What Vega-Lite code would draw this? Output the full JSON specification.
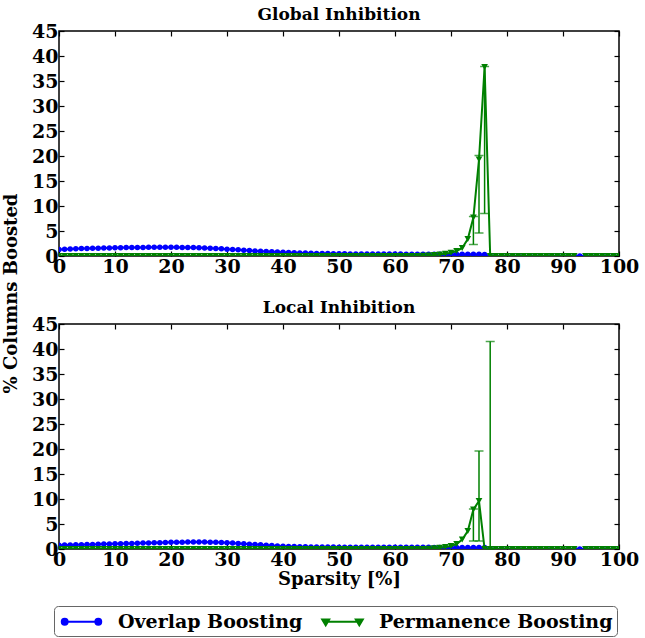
{
  "$schema": "https://vega.github.io/schema/vega-lite/v6.json",
  "padding": {"left": 1, "top": 5, "right": 0, "bottom": 0},
  "background": "white",
  "bounds": "flush",
  "spacing": 68,
  "datasets": {
    "global": [
      {"sparsity":0,"Overlap Boosting":1.30,"Permanence Boosting":0},
      {"sparsity":1,"Overlap Boosting":1.35,"Permanence Boosting":0},
      {"sparsity":2,"Overlap Boosting":1.40,"Permanence Boosting":0},
      {"sparsity":3,"Overlap Boosting":1.45,"Permanence Boosting":0},
      {"sparsity":4,"Overlap Boosting":1.48,"Permanence Boosting":0},
      {"sparsity":5,"Overlap Boosting":1.52,"Permanence Boosting":0},
      {"sparsity":6,"Overlap Boosting":1.55,"Permanence Boosting":0},
      {"sparsity":7,"Overlap Boosting":1.57,"Permanence Boosting":0},
      {"sparsity":8,"Overlap Boosting":1.60,"Permanence Boosting":0},
      {"sparsity":9,"Overlap Boosting":1.62,"Permanence Boosting":0},
      {"sparsity":10,"Overlap Boosting":1.64,"Permanence Boosting":0},
      {"sparsity":11,"Overlap Boosting":1.66,"Permanence Boosting":0},
      {"sparsity":12,"Overlap Boosting":1.68,"Permanence Boosting":0},
      {"sparsity":13,"Overlap Boosting":1.70,"Permanence Boosting":0},
      {"sparsity":14,"Overlap Boosting":1.71,"Permanence Boosting":0},
      {"sparsity":15,"Overlap Boosting":1.72,"Permanence Boosting":0},
      {"sparsity":16,"Overlap Boosting":1.73,"Permanence Boosting":0},
      {"sparsity":17,"Overlap Boosting":1.74,"Permanence Boosting":0},
      {"sparsity":18,"Overlap Boosting":1.74,"Permanence Boosting":0},
      {"sparsity":19,"Overlap Boosting":1.74,"Permanence Boosting":0},
      {"sparsity":20,"Overlap Boosting":1.74,"Permanence Boosting":0},
      {"sparsity":21,"Overlap Boosting":1.73,"Permanence Boosting":0},
      {"sparsity":22,"Overlap Boosting":1.72,"Permanence Boosting":0},
      {"sparsity":23,"Overlap Boosting":1.70,"Permanence Boosting":0},
      {"sparsity":24,"Overlap Boosting":1.68,"Permanence Boosting":0},
      {"sparsity":25,"Overlap Boosting":1.65,"Permanence Boosting":0},
      {"sparsity":26,"Overlap Boosting":1.61,"Permanence Boosting":0},
      {"sparsity":27,"Overlap Boosting":1.56,"Permanence Boosting":0},
      {"sparsity":28,"Overlap Boosting":1.50,"Permanence Boosting":0},
      {"sparsity":29,"Overlap Boosting":1.44,"Permanence Boosting":0},
      {"sparsity":30,"Overlap Boosting":1.37,"Permanence Boosting":0},
      {"sparsity":31,"Overlap Boosting":1.30,"Permanence Boosting":0},
      {"sparsity":32,"Overlap Boosting":1.23,"Permanence Boosting":0},
      {"sparsity":33,"Overlap Boosting":1.16,"Permanence Boosting":0},
      {"sparsity":34,"Overlap Boosting":1.09,"Permanence Boosting":0},
      {"sparsity":35,"Overlap Boosting":1.02,"Permanence Boosting":0},
      {"sparsity":36,"Overlap Boosting":0.96,"Permanence Boosting":0},
      {"sparsity":37,"Overlap Boosting":0.90,"Permanence Boosting":0},
      {"sparsity":38,"Overlap Boosting":0.85,"Permanence Boosting":0},
      {"sparsity":39,"Overlap Boosting":0.80,"Permanence Boosting":0},
      {"sparsity":40,"Overlap Boosting":0.75,"Permanence Boosting":0},
      {"sparsity":41,"Overlap Boosting":0.70,"Permanence Boosting":0},
      {"sparsity":42,"Overlap Boosting":0.66,"Permanence Boosting":0},
      {"sparsity":43,"Overlap Boosting":0.62,"Permanence Boosting":0},
      {"sparsity":44,"Overlap Boosting":0.58,"Permanence Boosting":0},
      {"sparsity":45,"Overlap Boosting":0.55,"Permanence Boosting":0},
      {"sparsity":46,"Overlap Boosting":0.52,"Permanence Boosting":0},
      {"sparsity":47,"Overlap Boosting":0.50,"Permanence Boosting":0},
      {"sparsity":48,"Overlap Boosting":0.48,"Permanence Boosting":0},
      {"sparsity":49,"Overlap Boosting":0.46,"Permanence Boosting":0},
      {"sparsity":50,"Overlap Boosting":0.44,"Permanence Boosting":0},
      {"sparsity":51,"Overlap Boosting":0.43,"Permanence Boosting":0},
      {"sparsity":52,"Overlap Boosting":0.42,"Permanence Boosting":0},
      {"sparsity":53,"Overlap Boosting":0.41,"Permanence Boosting":0},
      {"sparsity":54,"Overlap Boosting":0.41,"Permanence Boosting":0},
      {"sparsity":55,"Overlap Boosting":0.40,"Permanence Boosting":0},
      {"sparsity":56,"Overlap Boosting":0.40,"Permanence Boosting":0},
      {"sparsity":57,"Overlap Boosting":0.39,"Permanence Boosting":0},
      {"sparsity":58,"Overlap Boosting":0.39,"Permanence Boosting":0},
      {"sparsity":59,"Overlap Boosting":0.38,"Permanence Boosting":0},
      {"sparsity":60,"Overlap Boosting":0.38,"Permanence Boosting":0},
      {"sparsity":61,"Overlap Boosting":0.38,"Permanence Boosting":0},
      {"sparsity":62,"Overlap Boosting":0.37,"Permanence Boosting":0},
      {"sparsity":63,"Overlap Boosting":0.37,"Permanence Boosting":0},
      {"sparsity":64,"Overlap Boosting":0.37,"Permanence Boosting":0},
      {"sparsity":65,"Overlap Boosting":0.36,"Permanence Boosting":0.05},
      {"sparsity":66,"Overlap Boosting":0.36,"Permanence Boosting":0.1},
      {"sparsity":67,"Overlap Boosting":0.36,"Permanence Boosting":0.2},
      {"sparsity":68,"Overlap Boosting":0.35,"Permanence Boosting":0.3},
      {"sparsity":69,"Overlap Boosting":0.35,"Permanence Boosting":0.45},
      {"sparsity":70,"Overlap Boosting":0.35,"Permanence Boosting":0.65},
      {"sparsity":71,"Overlap Boosting":0.34,"Permanence Boosting":1.0},
      {"sparsity":72,"Overlap Boosting":0.34,"Permanence Boosting":1.6},
      {"sparsity":73,"Overlap Boosting":0.34,"Permanence Boosting":3.4},
      {"sparsity":74,"Overlap Boosting":0.33,"Permanence Boosting":7.7},
      {"sparsity":75,"Overlap Boosting":0.33,"Permanence Boosting":19.3},
      {"sparsity":76,"Overlap Boosting":0.32,"Permanence Boosting":37.8},
      {"sparsity":77,"Overlap Boosting":0,"Permanence Boosting":0},
      {"sparsity":78,"Overlap Boosting":0,"Permanence Boosting":0},
      {"sparsity":79,"Overlap Boosting":0,"Permanence Boosting":0},
      {"sparsity":80,"Overlap Boosting":0,"Permanence Boosting":0},
      {"sparsity":81,"Overlap Boosting":0,"Permanence Boosting":0},
      {"sparsity":82,"Overlap Boosting":0,"Permanence Boosting":0},
      {"sparsity":83,"Overlap Boosting":0,"Permanence Boosting":0},
      {"sparsity":84,"Overlap Boosting":0,"Permanence Boosting":0},
      {"sparsity":85,"Overlap Boosting":0,"Permanence Boosting":0},
      {"sparsity":86,"Overlap Boosting":0,"Permanence Boosting":0},
      {"sparsity":87,"Overlap Boosting":0,"Permanence Boosting":0},
      {"sparsity":88,"Overlap Boosting":0,"Permanence Boosting":0},
      {"sparsity":89,"Overlap Boosting":0,"Permanence Boosting":0},
      {"sparsity":90,"Overlap Boosting":0,"Permanence Boosting":0},
      {"sparsity":91,"Overlap Boosting":0,"Permanence Boosting":0},
      {"sparsity":92,"Overlap Boosting":0,"Permanence Boosting":0},
      {"sparsity":93,"Overlap Boosting":0,"Permanence Boosting":null},
      {"sparsity":94,"Overlap Boosting":0,"Permanence Boosting":0},
      {"sparsity":95,"Overlap Boosting":0,"Permanence Boosting":0},
      {"sparsity":96,"Overlap Boosting":0,"Permanence Boosting":0},
      {"sparsity":97,"Overlap Boosting":0,"Permanence Boosting":0},
      {"sparsity":98,"Overlap Boosting":0,"Permanence Boosting":0},
      {"sparsity":99,"Overlap Boosting":0,"Permanence Boosting":0},
      {"sparsity":100,"Overlap Boosting":0,"Permanence Boosting":0}
    ],
    "local": [
      {"sparsity":0,"Overlap Boosting":0.75,"Permanence Boosting":0},
      {"sparsity":1,"Overlap Boosting":0.78,"Permanence Boosting":0},
      {"sparsity":2,"Overlap Boosting":0.80,"Permanence Boosting":0},
      {"sparsity":3,"Overlap Boosting":0.83,"Permanence Boosting":0},
      {"sparsity":4,"Overlap Boosting":0.86,"Permanence Boosting":0},
      {"sparsity":5,"Overlap Boosting":0.89,"Permanence Boosting":0},
      {"sparsity":6,"Overlap Boosting":0.92,"Permanence Boosting":0},
      {"sparsity":7,"Overlap Boosting":0.95,"Permanence Boosting":0},
      {"sparsity":8,"Overlap Boosting":0.98,"Permanence Boosting":0},
      {"sparsity":9,"Overlap Boosting":1.00,"Permanence Boosting":0},
      {"sparsity":10,"Overlap Boosting":1.03,"Permanence Boosting":0},
      {"sparsity":11,"Overlap Boosting":1.06,"Permanence Boosting":0},
      {"sparsity":12,"Overlap Boosting":1.09,"Permanence Boosting":0},
      {"sparsity":13,"Overlap Boosting":1.12,"Permanence Boosting":0},
      {"sparsity":14,"Overlap Boosting":1.15,"Permanence Boosting":0},
      {"sparsity":15,"Overlap Boosting":1.18,"Permanence Boosting":0},
      {"sparsity":16,"Overlap Boosting":1.21,"Permanence Boosting":0},
      {"sparsity":17,"Overlap Boosting":1.24,"Permanence Boosting":0},
      {"sparsity":18,"Overlap Boosting":1.27,"Permanence Boosting":0},
      {"sparsity":19,"Overlap Boosting":1.30,"Permanence Boosting":0},
      {"sparsity":20,"Overlap Boosting":1.33,"Permanence Boosting":0},
      {"sparsity":21,"Overlap Boosting":1.35,"Permanence Boosting":0},
      {"sparsity":22,"Overlap Boosting":1.37,"Permanence Boosting":0},
      {"sparsity":23,"Overlap Boosting":1.38,"Permanence Boosting":0},
      {"sparsity":24,"Overlap Boosting":1.39,"Permanence Boosting":0},
      {"sparsity":25,"Overlap Boosting":1.39,"Permanence Boosting":0},
      {"sparsity":26,"Overlap Boosting":1.38,"Permanence Boosting":0},
      {"sparsity":27,"Overlap Boosting":1.36,"Permanence Boosting":0},
      {"sparsity":28,"Overlap Boosting":1.33,"Permanence Boosting":0},
      {"sparsity":29,"Overlap Boosting":1.29,"Permanence Boosting":0},
      {"sparsity":30,"Overlap Boosting":1.24,"Permanence Boosting":0},
      {"sparsity":31,"Overlap Boosting":1.18,"Permanence Boosting":0},
      {"sparsity":32,"Overlap Boosting":1.11,"Permanence Boosting":0},
      {"sparsity":33,"Overlap Boosting":1.04,"Permanence Boosting":0},
      {"sparsity":34,"Overlap Boosting":0.97,"Permanence Boosting":0},
      {"sparsity":35,"Overlap Boosting":0.90,"Permanence Boosting":0},
      {"sparsity":36,"Overlap Boosting":0.83,"Permanence Boosting":0},
      {"sparsity":37,"Overlap Boosting":0.76,"Permanence Boosting":0},
      {"sparsity":38,"Overlap Boosting":0.69,"Permanence Boosting":0},
      {"sparsity":39,"Overlap Boosting":0.62,"Permanence Boosting":0},
      {"sparsity":40,"Overlap Boosting":0.56,"Permanence Boosting":0},
      {"sparsity":41,"Overlap Boosting":0.52,"Permanence Boosting":0},
      {"sparsity":42,"Overlap Boosting":0.49,"Permanence Boosting":0},
      {"sparsity":43,"Overlap Boosting":0.46,"Permanence Boosting":0},
      {"sparsity":44,"Overlap Boosting":0.44,"Permanence Boosting":0},
      {"sparsity":45,"Overlap Boosting":0.42,"Permanence Boosting":0},
      {"sparsity":46,"Overlap Boosting":0.41,"Permanence Boosting":0},
      {"sparsity":47,"Overlap Boosting":0.40,"Permanence Boosting":0},
      {"sparsity":48,"Overlap Boosting":0.39,"Permanence Boosting":0},
      {"sparsity":49,"Overlap Boosting":0.38,"Permanence Boosting":0},
      {"sparsity":50,"Overlap Boosting":0.37,"Permanence Boosting":0},
      {"sparsity":51,"Overlap Boosting":0.37,"Permanence Boosting":0},
      {"sparsity":52,"Overlap Boosting":0.36,"Permanence Boosting":0},
      {"sparsity":53,"Overlap Boosting":0.36,"Permanence Boosting":0},
      {"sparsity":54,"Overlap Boosting":0.36,"Permanence Boosting":0},
      {"sparsity":55,"Overlap Boosting":0.35,"Permanence Boosting":0},
      {"sparsity":56,"Overlap Boosting":0.35,"Permanence Boosting":0},
      {"sparsity":57,"Overlap Boosting":0.35,"Permanence Boosting":0},
      {"sparsity":58,"Overlap Boosting":0.35,"Permanence Boosting":0},
      {"sparsity":59,"Overlap Boosting":0.34,"Permanence Boosting":0},
      {"sparsity":60,"Overlap Boosting":0.34,"Permanence Boosting":0},
      {"sparsity":61,"Overlap Boosting":0.34,"Permanence Boosting":0},
      {"sparsity":62,"Overlap Boosting":0.34,"Permanence Boosting":0},
      {"sparsity":63,"Overlap Boosting":0.33,"Permanence Boosting":0},
      {"sparsity":64,"Overlap Boosting":0.33,"Permanence Boosting":0},
      {"sparsity":65,"Overlap Boosting":0.33,"Permanence Boosting":0},
      {"sparsity":66,"Overlap Boosting":0.33,"Permanence Boosting":0.05},
      {"sparsity":67,"Overlap Boosting":0.32,"Permanence Boosting":0.15},
      {"sparsity":68,"Overlap Boosting":0.32,"Permanence Boosting":0.25},
      {"sparsity":69,"Overlap Boosting":0.32,"Permanence Boosting":0.4},
      {"sparsity":70,"Overlap Boosting":0.32,"Permanence Boosting":0.6},
      {"sparsity":71,"Overlap Boosting":0.31,"Permanence Boosting":1.0},
      {"sparsity":72,"Overlap Boosting":0.31,"Permanence Boosting":1.9},
      {"sparsity":73,"Overlap Boosting":0.31,"Permanence Boosting":3.6},
      {"sparsity":74,"Overlap Boosting":0.30,"Permanence Boosting":7.9},
      {"sparsity":75,"Overlap Boosting":0.30,"Permanence Boosting":9.6},
      {"sparsity":76,"Overlap Boosting":0.30,"Permanence Boosting":0},
      {"sparsity":77,"Overlap Boosting":0,"Permanence Boosting":0},
      {"sparsity":78,"Overlap Boosting":0,"Permanence Boosting":0},
      {"sparsity":79,"Overlap Boosting":0,"Permanence Boosting":0},
      {"sparsity":80,"Overlap Boosting":0,"Permanence Boosting":0},
      {"sparsity":81,"Overlap Boosting":0,"Permanence Boosting":0},
      {"sparsity":82,"Overlap Boosting":0,"Permanence Boosting":0},
      {"sparsity":83,"Overlap Boosting":0,"Permanence Boosting":0},
      {"sparsity":84,"Overlap Boosting":0,"Permanence Boosting":0},
      {"sparsity":85,"Overlap Boosting":0,"Permanence Boosting":0},
      {"sparsity":86,"Overlap Boosting":0,"Permanence Boosting":0},
      {"sparsity":87,"Overlap Boosting":0,"Permanence Boosting":0},
      {"sparsity":88,"Overlap Boosting":0,"Permanence Boosting":0},
      {"sparsity":89,"Overlap Boosting":0,"Permanence Boosting":0},
      {"sparsity":90,"Overlap Boosting":0,"Permanence Boosting":0},
      {"sparsity":91,"Overlap Boosting":0,"Permanence Boosting":0},
      {"sparsity":92,"Overlap Boosting":0,"Permanence Boosting":0},
      {"sparsity":93,"Overlap Boosting":0,"Permanence Boosting":null},
      {"sparsity":94,"Overlap Boosting":0,"Permanence Boosting":0},
      {"sparsity":95,"Overlap Boosting":0,"Permanence Boosting":0},
      {"sparsity":96,"Overlap Boosting":0,"Permanence Boosting":0},
      {"sparsity":97,"Overlap Boosting":0,"Permanence Boosting":0},
      {"sparsity":98,"Overlap Boosting":0,"Permanence Boosting":0},
      {"sparsity":99,"Overlap Boosting":0,"Permanence Boosting":0},
      {"sparsity":100,"Overlap Boosting":0,"Permanence Boosting":0}
    ],
    "globalErr": [
      {"sparsity":74,"lo":2.3,"hi":7.9},
      {"sparsity":75,"lo":4.6,"hi":20.1},
      {"sparsity":76,"lo":8.5,"hi":37.9}
    ],
    "localErr": [
      {"sparsity":74,"lo":1.6,"hi":8.0},
      {"sparsity":75,"lo":1.6,"hi":19.6},
      {"sparsity":77,"lo":0,"hi":41.5}
    ]
  },
  "vconcat": [
    {
      "title": {"text": "Global Inhibition", "offset": -2},
      "width": 560,
      "height": 225,
      "layer": [
        {
          "data": {"name": "global"},
          "transform": [{"fold": ["Overlap Boosting", "Permanence Boosting"], "as": ["series", "value"]}],
          "encoding": {
            "x": {"field": "sparsity", "type": "quantitative", "scale": {"domain": [0, 100], "nice": false},
                  "axis": {"values": [0,10,20,30,40,50,60,70,80,90,100], "title": null}},
            "y": {"field": "value", "type": "quantitative", "scale": {"domain": [0, 45], "nice": false},
                  "axis": {"values": [0,5,10,15,20,25,30,35,40,45], "title": "% Columns Boosted", "titleX": -48, "titleY": 262, "titleBaseline": "middle", "titleAngle": -90, "titleAnchor": "middle"}},
            "color": {"field": "series", "type": "nominal", "scale": {"domain": ["Overlap Boosting", "Permanence Boosting"], "range": ["#0000ff", "#008000"]},
              "legend": {
                 "orient": "none", "legendX": -5, "legendY": 575, "direction": "horizontal", "title": null,
                 "encode": {"symbols": {"update": {
                   "shape": {"signal": "datum.value === 'Overlap Boosting' ? 'M-1.6,0H1.6M-1.88,0a0.28,0.28 0 1,0 0.56,0a0.28,0.28 0 1,0 -0.56,0M1.32,0a0.28,0.28 0 1,0 0.56,0a0.28,0.28 0 1,0 -0.56,0' : 'M-1.6,0H1.6M-1.93,-0.22H-1.27L-1.6,0.33ZM1.27,-0.22H1.93L1.6,0.33Z'"},
                   "stroke": {"signal": "datum.value === 'Overlap Boosting' ? '#0000ff' : '#008000'"},
                   "fill": {"signal": "datum.value === 'Overlap Boosting' ? '#0000ff' : '#008000'"},
                   "strokeWidth": {"value": 2},
                   "strokeDash": {"value": []},
                   "opacity": {"value": 1}
                 }}}
              }}
          },
          "layer": [
            {"transform": [{"filter": {"field": "series", "equal": "Overlap Boosting"}}],
             "mark": {"type": "line", "clip": true, "strokeWidth": 2, "invalid": "break-paths-filter-domains"}},
            {"transform": [{"filter": {"field": "series", "equal": "Overlap Boosting"}}],
             "mark": {"type": "point", "shape": "circle", "filled": true, "size": 30, "opacity": 1, "clip": true}},
            {"transform": [{"filter": {"field": "series", "equal": "Permanence Boosting"}}],
             "mark": {"type": "line", "clip": true, "strokeWidth": 2, "invalid": "break-paths-filter-domains"}},
            {"transform": [{"filter": {"field": "series", "equal": "Permanence Boosting"}}],
             "mark": {"type": "point", "shape": "triangle-down", "filled": true, "size": 45, "opacity": 1, "clip": true}}
          ]
        },
        {
          "data": {"name": "globalErr"},
          "mark": {"type": "errorbar", "color": "#008000", "thickness": 1.5, "ticks": {"size": 9, "thickness": 1.5, "color": "#008000"}},
          "encoding": {
            "x": {"field": "sparsity", "type": "quantitative", "scale": {"domain": [0, 100], "nice": false},
                  "axis": {"orient": "top", "labels": false, "title": null, "values": [0,10,20,30,40,50,60,70,80,90,100]}},
            "y": {"field": "lo", "type": "quantitative", "scale": {"domain": [0, 45], "nice": false},
                  "axis": {"orient": "right", "labels": false, "title": null, "values": [0,5,10,15,20,25,30,35,40,45]}},
            "y2": {"field": "hi"}
          }
        }
      ],
      "resolve": {"scale": {"x": "independent", "y": "independent"}}
    },
    {
      "title": {"text": "Local Inhibition", "offset": -2},
      "width": 560,
      "height": 225,
      "layer": [
        {
          "data": {"name": "local"},
          "transform": [{"fold": ["Overlap Boosting", "Permanence Boosting"], "as": ["series", "value"]}],
          "encoding": {
            "x": {"field": "sparsity", "type": "quantitative", "scale": {"domain": [0, 100], "nice": false},
                  "axis": {"values": [0,10,20,30,40,50,60,70,80,90,100], "title": "Sparsity [%]", "titlePadding": 1}},
            "y": {"field": "value", "type": "quantitative", "scale": {"domain": [0, 45], "nice": false},
                  "axis": {"values": [0,5,10,15,20,25,30,35,40,45], "title": null}},
            "color": {"field": "series", "type": "nominal", "scale": {"domain": ["Overlap Boosting", "Permanence Boosting"], "range": ["#0000ff", "#008000"]}}
          },
          "layer": [
            {"transform": [{"filter": {"field": "series", "equal": "Overlap Boosting"}}],
             "mark": {"type": "line", "clip": true, "strokeWidth": 2, "invalid": "break-paths-filter-domains"}},
            {"transform": [{"filter": {"field": "series", "equal": "Overlap Boosting"}}],
             "mark": {"type": "point", "shape": "circle", "filled": true, "size": 30, "opacity": 1, "clip": true}},
            {"transform": [{"filter": {"field": "series", "equal": "Permanence Boosting"}}],
             "mark": {"type": "line", "clip": true, "strokeWidth": 2, "invalid": "break-paths-filter-domains"}},
            {"transform": [{"filter": {"field": "series", "equal": "Permanence Boosting"}}],
             "mark": {"type": "point", "shape": "triangle-down", "filled": true, "size": 45, "opacity": 1, "clip": true}}
          ]
        },
        {
          "data": {"name": "localErr"},
          "mark": {"type": "errorbar", "color": "#008000", "thickness": 1.5, "ticks": {"size": 9, "thickness": 1.5, "color": "#008000"}},
          "encoding": {
            "x": {"field": "sparsity", "type": "quantitative", "scale": {"domain": [0, 100], "nice": false},
                  "axis": {"orient": "top", "labels": false, "title": null, "values": [0,10,20,30,40,50,60,70,80,90,100]}},
            "y": {"field": "lo", "type": "quantitative", "scale": {"domain": [0, 45], "nice": false},
                  "axis": {"orient": "right", "labels": false, "title": null, "values": [0,5,10,15,20,25,30,35,40,45]}},
            "y2": {"field": "hi"}
          }
        }
      ],
      "resolve": {"scale": {"x": "independent", "y": "independent"}}
    }
  ],
  "config": {
    "font": "DejaVu Serif",
    "view": {"stroke": "black", "strokeWidth": 1.5},
    "title": {"font": "DejaVu Serif", "fontWeight": "bold", "fontSize": 17, "color": "black"},
    "axis": {
      "domain": false, "grid": false, "ticks": true, "tickSize": -5, "tickColor": "black", "tickWidth": 1.2,
      "labelFont": "DejaVu Serif", "labelFontWeight": "bold", "labelFontSize": 19, "labelColor": "black",
      "labelFlush": false, "labelOverlap": false, "labelPadding": 6,
      "titleFont": "DejaVu Serif", "titleFontWeight": "bold", "titleFontSize": 18, "titleColor": "black"
    },
    "legend": {
      "labelFont": "DejaVu Serif", "labelFontWeight": "bold", "labelFontSize": 19, "labelColor": "black",
      "labelLimit": 400,
      "strokeColor": "#666", "cornerRadius": 4, "padding": 4, "fillColor": "white",
      "symbolSize": 441, "symbolStrokeWidth": 2, "symbolOffset": 12, "columnPadding": 15, "labelOffset": 25
    }
  }
}
